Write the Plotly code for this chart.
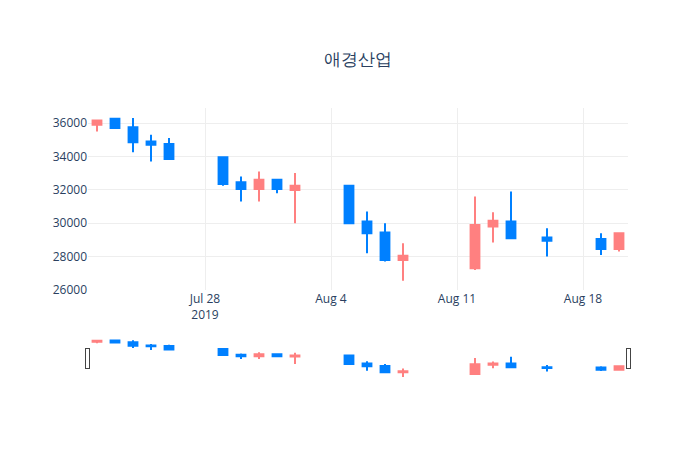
import plotly.graph_objects as go

dates = ["2019-07-22","2019-07-23","2019-07-24","2019-07-25","2019-07-26",
         "2019-07-29","2019-07-30","2019-07-31","2019-08-01","2019-08-02",
         "2019-08-05","2019-08-06","2019-08-07","2019-08-08",
         "2019-08-12","2019-08-13","2019-08-14","2019-08-16","2019-08-19","2019-08-20"]
opens  = [35900,36250,35750,34900,34750,33950,32450,32050,32600,31990,32250,30100,29450,27800,27300,29800,30100,29150,29050,28450]
highs  = [36200,36300,36300,35300,35100,33950,32800,33100,32600,33000,32250,30700,30000,28800,31600,30650,31900,29700,29400,29450]
lows   = [35500,35700,34250,33700,33800,32250,31300,31300,31800,30000,30000,28200,27700,26550,27200,28850,29050,28000,28100,28300]
closes = [36150,35700,34850,34700,33850,32350,32050,32600,32050,32250,30000,29400,27800,28050,29900,30150,29100,28950,28450,29400]

fig = go.Figure(go.Candlestick(
    x=dates, open=opens, high=highs, low=lows, close=closes,
    increasing=dict(line=dict(color="#FF8080"), fillcolor="#FF8080"),
    decreasing=dict(line=dict(color="#0080FF"), fillcolor="#0080FF"),
))
fig.update_layout(
    title=dict(text="애경산업", x=0.5, y=0.9, font=dict(size=17)),
    width=700, height=450, template="plotly_white",
    margin=dict(l=80, r=80, t=100, b=80),
    xaxis=dict(rangeslider=dict(visible=True), range=["2019-07-21 12:00", "2019-08-20 12:00"],
               gridcolor="#eeeeee", automargin=False),
    yaxis=dict(range=[26000, 36900], dtick=2000, tickformat="d", gridcolor="#eeeeee", automargin=False),
    showlegend=False,
)
fig.write_html("out.html")
